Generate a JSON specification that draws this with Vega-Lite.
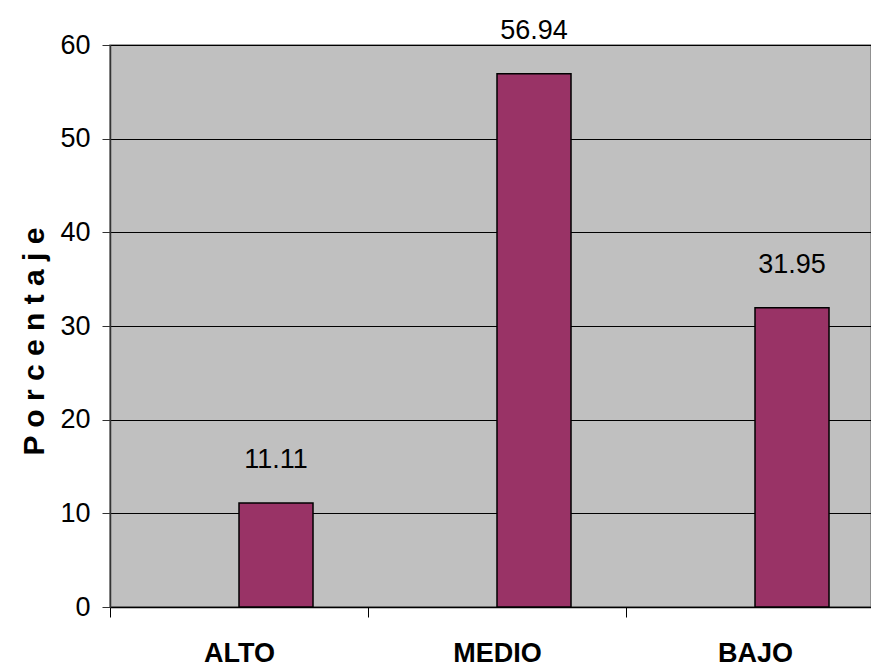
{
  "$schema": "https://vega.github.io/schema/vega-lite/v6.json",
  "width": 761,
  "height": 562,
  "autosize": {"type": "none"},
  "padding": {"left": 110, "top": 45, "right": 0, "bottom": 61},
  "background": "#FFFFFF",
  "config": {
    "font": "Liberation Sans, Arial, sans-serif",
    "view": {"fill": "#C0C0C0", "stroke": "#808080", "strokeWidth": 1.5}
  },
  "data": {
    "values": [
      {"nivel": "ALTO", "serie": "Porcentaje", "porcentaje": 11.11},
      {"nivel": "MEDIO", "serie": "Porcentaje", "porcentaje": 56.94},
      {"nivel": "BAJO", "serie": "Porcentaje", "porcentaje": 31.95}
    ]
  },
  "encoding": {
    "x": {
      "field": "nivel",
      "type": "nominal",
      "sort": ["ALTO", "MEDIO", "BAJO"],
      "scale": {"range": [0, 774], "paddingInner": 0, "paddingOuter": 0},
      "axis": {
        "title": null,
        "labelAngle": 0,
        "labelFont": "Liberation Sans, Arial, sans-serif",
        "labelFontSize": 27,
        "labelFontWeight": "bold",
        "labelColor": "#000000",
        "labelBaseline": "alphabetic",
        "labelPadding": 44,
        "tickBand": "extent",
        "tickSize": 10,
        "tickColor": "#000000",
        "tickWidth": 1,
        "domainColor": "#000000",
        "domainWidth": 1.5,
        "grid": false
      }
    },
    "xOffset": {
      "field": "serie",
      "type": "nominal",
      "scale": {"domain": ["Serie oculta", "Porcentaje"], "paddingInner": 0, "paddingOuter": 0.743}
    },
    "y": {
      "field": "porcentaje",
      "type": "quantitative",
      "scale": {"domain": [0, 60], "nice": false},
      "axis": {
        "title": "P o r c e n t a j e",
        "titleFont": "Liberation Sans, Arial, sans-serif",
        "titleFontSize": 30,
        "titleFontWeight": "bold",
        "titleColor": "#000000",
        "titleAngle": -90,
        "titleAlign": "center",
        "titleBaseline": "alphabetic",
        "titleX": -67,
        "titleY": 296,
        "values": [0, 10, 20, 30, 40, 50, 60],
        "labelFont": "Liberation Sans, Arial, sans-serif",
        "labelFontSize": 27,
        "labelColor": "#000000",
        "labelPadding": 12,
        "tickSize": 8,
        "tickColor": "#333333",
        "tickWidth": 1,
        "domainColor": "#333333",
        "domainWidth": 1.5,
        "grid": true,
        "gridColor": "#000000",
        "gridWidth": 1,
        "gridOpacity": 1
      }
    }
  },
  "layer": [
    {
      "mark": {"type": "bar", "color": "#993366", "stroke": "#000000", "strokeWidth": 1.5}
    },
    {
      "mark": {
        "type": "text",
        "baseline": "alphabetic",
        "align": "center",
        "dy": -35,
        "font": "Liberation Sans, Arial, sans-serif",
        "fontSize": 27,
        "color": "#000000"
      },
      "encoding": {
        "text": {"field": "porcentaje", "type": "quantitative", "format": ".2f"}
      }
    }
  ]
}
